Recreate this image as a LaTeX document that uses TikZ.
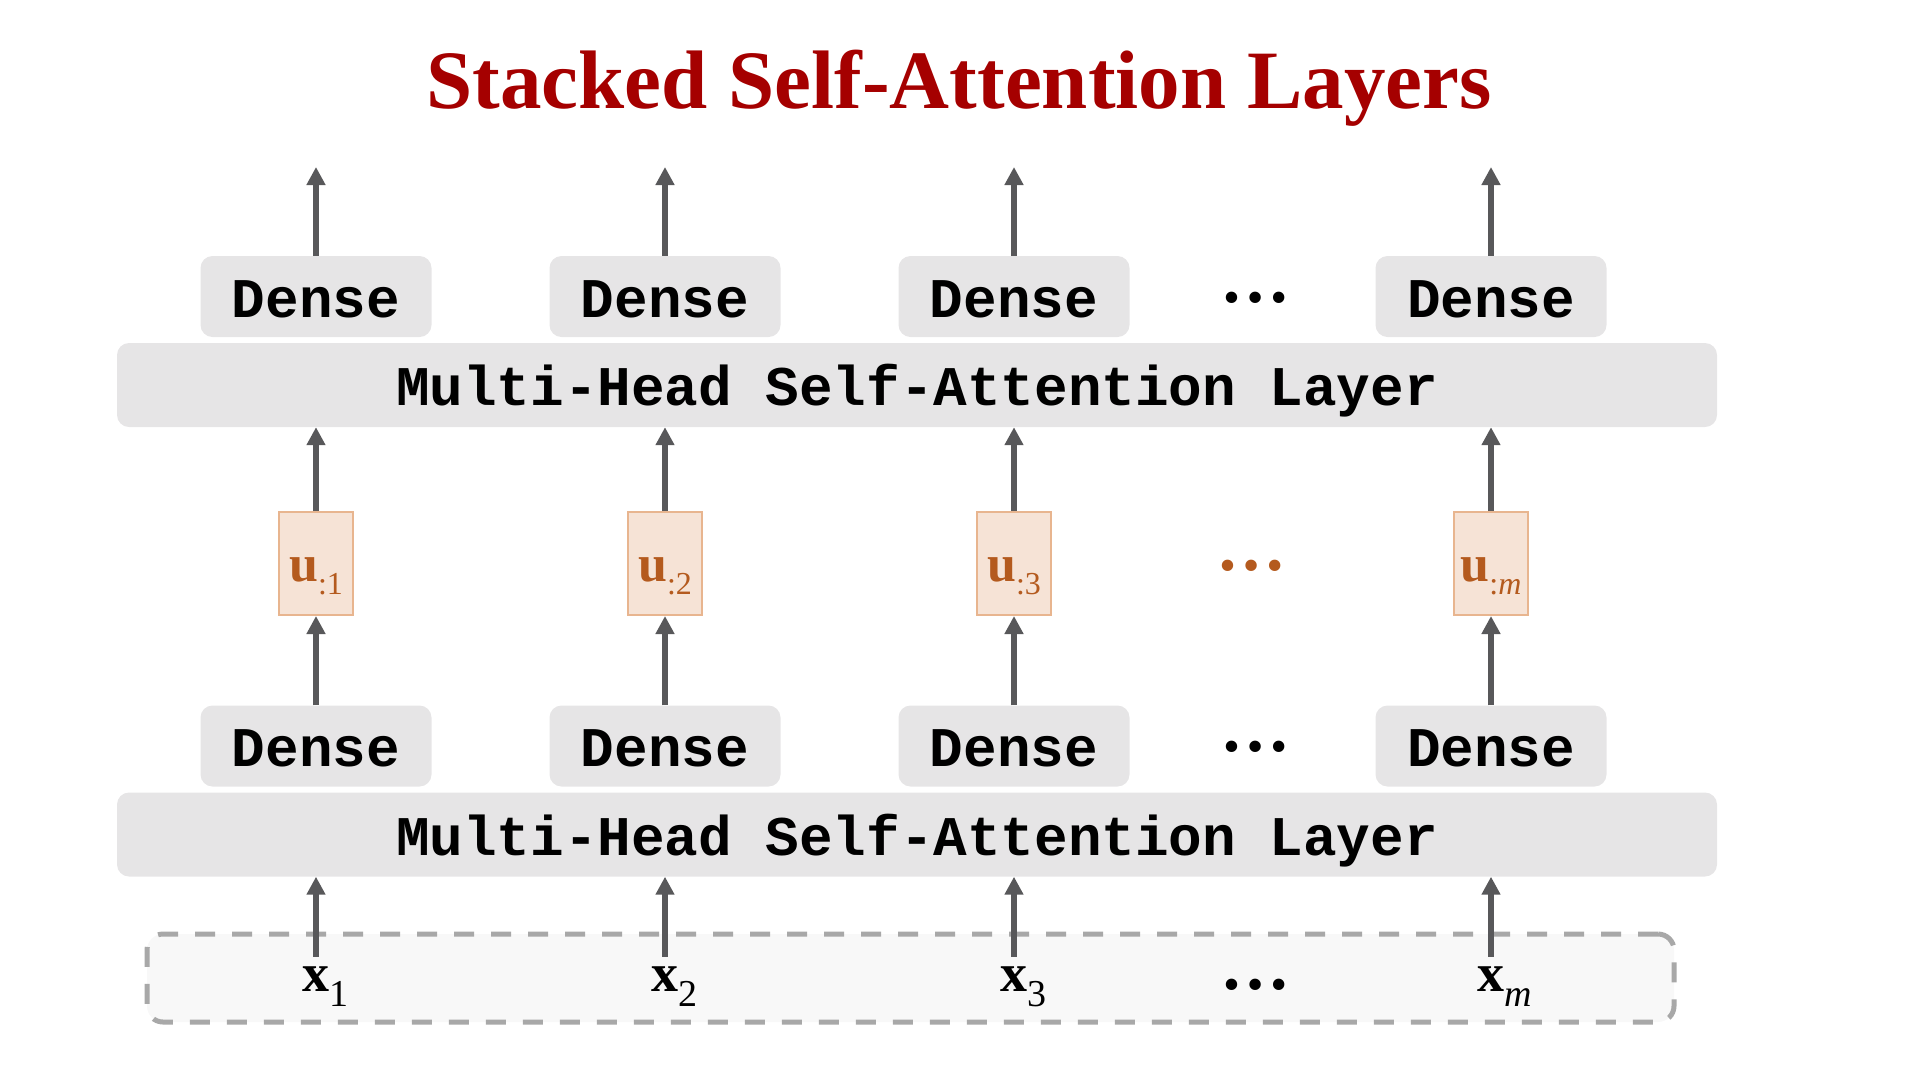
\documentclass[tikz,border=0pt]{standalone}
\usepackage{fontspec}
\setmainfont{Liberation Serif}
\setmonofont{Liberation Mono}
\usetikzlibrary{arrows.meta}

\definecolor{titlered}{RGB}{165,0,0}
\definecolor{boxgray}{RGB}{230,229,230}
\definecolor{arrgray}{RGB}{88,88,90}
\definecolor{ufill}{RGB}{246,227,214}
\definecolor{uedge}{RGB}{232,181,143}
\definecolor{ubrown}{RGB}{180,90,30}
\definecolor{dashgray}{RGB}{168,168,168}
\definecolor{dashfill}{RGB}{248,248,248}

% bold vector with a lowered index
\newcommand{\vecsub}[2]{\textbf{#1}\raisebox{-0.25em}{\fontsize{32}{34}\selectfont #2}}

\begin{document}
\begin{tikzpicture}[x=1pt,y=-1pt,
    graybox/.style={fill=boxgray, rounded corners=12pt, inner sep=0pt,
      text height=41pt, text depth=0pt,
      font=\fontsize{56}{60}\selectfont\ttfamily\bfseries},
    dense/.style={graybox, minimum width=231pt, minimum height=81pt},
    attn/.style={graybox, minimum width=1600pt, minimum height=84pt},
    uvec/.style={fill=ufill, draw=uedge, line width=2pt, minimum width=74pt,
      minimum height=103pt, inner sep=0pt, text height=36pt, text depth=0pt,
      text=ubrown, font=\fontsize{52}{56}\selectfont},
    xin/.style={inner sep=10pt, font=\fontsize{54}{58}\selectfont},
    dots/.style={inner sep=0pt, font=\fontsize{70}{70}\selectfont\bfseries},
    arr/.style={draw=arrgray, line width=6pt, -{Triangle[length=18pt,width=18pt]}}]
  \useasboundingbox (0,0) rectangle (1920,1080);

  \node [anchor=base, text=titlered, font=\fontsize{83}{90}\selectfont\bfseries]
    (title) at (959,108) {Stacked Self-Attention Layers};

  % inputs
  \node [draw=dashgray, fill=dashfill, line width=5pt, dash pattern=on 20pt off 17pt,
    rounded corners=16pt, minimum width=1527pt, minimum height=88pt] (inputs) at (910.5,978) {};
  \node [xin] (x1) at (316,987) {\textbf{x}\rlap{\raisebox{-0.28em}{\fontsize{38}{40}\selectfont 1}}};
  \node [xin] (x2) at (665,987) {\textbf{x}\rlap{\raisebox{-0.28em}{\fontsize{38}{40}\selectfont 2}}};
  \node [xin] (x3) at (1014,987) {\textbf{x}\rlap{\raisebox{-0.28em}{\fontsize{38}{40}\selectfont 3}}};
  \node [dots] (xdots) at (1255,985) {…};
  \node [xin] (xm) at (1491,987) {\textbf{x}\rlap{\raisebox{-0.28em}{\fontsize{38}{40}\selectfont\itshape m}}};

  % first block
  \node [attn] (attBot) at (917,834.5) {Multi-Head Self-Attention Layer};
  \node [dense] (bot1) at (316,746) {Dense};
  \node [dense] (bot2) at (665,746) {Dense};
  \node [dense] (bot3) at (1014,746) {Dense};
  \node [dots] (botdots) at (1255,747) {…};
  \node [dense] (botm) at (1491,746) {Dense};

  \node [uvec] (u1) at (316,563.5) {\vecsub{u}{:1}};
  \node [uvec] (u2) at (665,563.5) {\vecsub{u}{:2}};
  \node [uvec] (u3) at (1014,563.5) {\vecsub{u}{:3}};
  \node [dots, text=ubrown] (udots) at (1251,566) {…};
  \node [uvec] (um) at (1491,563.5) {\vecsub{u}{:\textit{m}}};

  % second block
  \node [attn] (attTop) at (917,385) {Multi-Head Self-Attention Layer};
  \node [dense] (top1) at (316,296.5) {Dense};
  \node [dense] (top2) at (665,296.5) {Dense};
  \node [dense] (top3) at (1014,296.5) {Dense};
  \node [dots] (topdots) at (1255,298) {…};
  \node [dense] (topm) at (1491,296.5) {Dense};
  \coordinate (out) at (0,167);

  \draw [arr] (x1.north) -- (x1.north |- attBot.south);
  \draw [arr] (x2.north) -- (x2.north |- attBot.south);
  \draw [arr] (x3.north) -- (x3.north |- attBot.south);
  \draw [arr] (xm.north) -- (xm.north |- attBot.south);

  \draw [arr] (bot1.north) -- (u1.south);
  \draw [arr] (bot2.north) -- (u2.south);
  \draw [arr] (bot3.north) -- (u3.south);
  \draw [arr] (botm.north) -- (um.south);

  \draw [arr] (u1.north) -- (u1.north |- attTop.south);
  \draw [arr] (u2.north) -- (u2.north |- attTop.south);
  \draw [arr] (u3.north) -- (u3.north |- attTop.south);
  \draw [arr] (um.north) -- (um.north |- attTop.south);

  \draw [arr] (top1.north) -- (top1.north |- out);
  \draw [arr] (top2.north) -- (top2.north |- out);
  \draw [arr] (top3.north) -- (top3.north |- out);
  \draw [arr] (topm.north) -- (topm.north |- out);
\end{tikzpicture}
\end{document}
